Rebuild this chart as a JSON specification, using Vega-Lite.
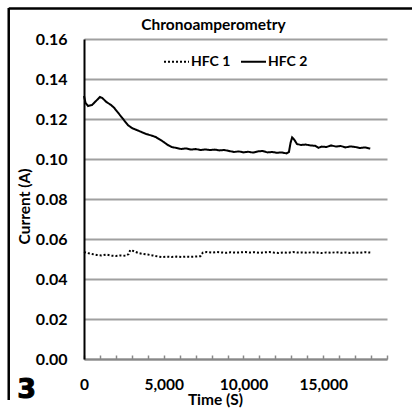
{
  "$schema": "https://vega.github.io/schema/vega-lite/v6.json",
  "autosize": "none",
  "padding": {"left": 84, "top": 39, "right": 25, "bottom": 52},
  "width": 303,
  "height": 320,
  "background": "white",
  "config": {"font": "Lato", "view": {"stroke": null}},
  "title": {"text": "Chronoamperometry", "font": "Lato", "fontSize": 15.5, "fontWeight": "bold", "color": "black", "anchor": "middle", "dx": -22, "offset": -27},
  "datasets": {
    "series": [
      {"t": 0, "v": 0.1315, "s": "HFC 2"}, {"t": 100, "v": 0.128, "s": "HFC 2"}, {"t": 250, "v": 0.1265, "s": "HFC 2"}, {"t": 500, "v": 0.127, "s": "HFC 2"},
      {"t": 750, "v": 0.129, "s": "HFC 2"}, {"t": 1000, "v": 0.131, "s": "HFC 2"}, {"t": 1150, "v": 0.1305, "s": "HFC 2"}, {"t": 1400, "v": 0.1285, "s": "HFC 2"},
      {"t": 1700, "v": 0.127, "s": "HFC 2"}, {"t": 1900, "v": 0.1255, "s": "HFC 2"}, {"t": 2100, "v": 0.1235, "s": "HFC 2"}, {"t": 2300, "v": 0.1215, "s": "HFC 2"},
      {"t": 2500, "v": 0.1195, "s": "HFC 2"}, {"t": 2750, "v": 0.117, "s": "HFC 2"}, {"t": 3000, "v": 0.1155, "s": "HFC 2"}, {"t": 3300, "v": 0.1145, "s": "HFC 2"},
      {"t": 3600, "v": 0.1135, "s": "HFC 2"}, {"t": 3900, "v": 0.1125, "s": "HFC 2"}, {"t": 4200, "v": 0.1118, "s": "HFC 2"}, {"t": 4500, "v": 0.111, "s": "HFC 2"},
      {"t": 4800, "v": 0.1095, "s": "HFC 2"}, {"t": 5000, "v": 0.1085, "s": "HFC 2"}, {"t": 5250, "v": 0.107, "s": "HFC 2"}, {"t": 5500, "v": 0.106, "s": "HFC 2"},
      {"t": 5800, "v": 0.1055, "s": "HFC 2"}, {"t": 6100, "v": 0.105, "s": "HFC 2"}, {"t": 6400, "v": 0.1053, "s": "HFC 2"}, {"t": 6700, "v": 0.1047, "s": "HFC 2"},
      {"t": 7000, "v": 0.105, "s": "HFC 2"}, {"t": 7300, "v": 0.1045, "s": "HFC 2"}, {"t": 7600, "v": 0.1048, "s": "HFC 2"}, {"t": 7900, "v": 0.1045, "s": "HFC 2"},
      {"t": 8200, "v": 0.1047, "s": "HFC 2"}, {"t": 8500, "v": 0.1043, "s": "HFC 2"}, {"t": 8800, "v": 0.1045, "s": "HFC 2"}, {"t": 9100, "v": 0.104, "s": "HFC 2"},
      {"t": 9400, "v": 0.1035, "s": "HFC 2"}, {"t": 9700, "v": 0.1038, "s": "HFC 2"}, {"t": 10000, "v": 0.1033, "s": "HFC 2"}, {"t": 10300, "v": 0.1036, "s": "HFC 2"},
      {"t": 10600, "v": 0.1032, "s": "HFC 2"}, {"t": 10900, "v": 0.1038, "s": "HFC 2"}, {"t": 11200, "v": 0.104, "s": "HFC 2"}, {"t": 11500, "v": 0.1033, "s": "HFC 2"},
      {"t": 11800, "v": 0.1035, "s": "HFC 2"}, {"t": 12100, "v": 0.1031, "s": "HFC 2"}, {"t": 12400, "v": 0.1033, "s": "HFC 2"}, {"t": 12700, "v": 0.1028, "s": "HFC 2"},
      {"t": 12850, "v": 0.1035, "s": "HFC 2"}, {"t": 12950, "v": 0.108, "s": "HFC 2"}, {"t": 13050, "v": 0.1108, "s": "HFC 2"}, {"t": 13200, "v": 0.1095, "s": "HFC 2"},
      {"t": 13350, "v": 0.1075, "s": "HFC 2"}, {"t": 13600, "v": 0.107, "s": "HFC 2"}, {"t": 13900, "v": 0.1072, "s": "HFC 2"}, {"t": 14200, "v": 0.1068, "s": "HFC 2"},
      {"t": 14500, "v": 0.1066, "s": "HFC 2"}, {"t": 14700, "v": 0.1056, "s": "HFC 2"}, {"t": 14900, "v": 0.1062, "s": "HFC 2"}, {"t": 15200, "v": 0.106, "s": "HFC 2"},
      {"t": 15500, "v": 0.1068, "s": "HFC 2"}, {"t": 15800, "v": 0.1062, "s": "HFC 2"}, {"t": 16100, "v": 0.1065, "s": "HFC 2"}, {"t": 16400, "v": 0.1058, "s": "HFC 2"},
      {"t": 16700, "v": 0.1063, "s": "HFC 2"}, {"t": 17000, "v": 0.106, "s": "HFC 2"}, {"t": 17300, "v": 0.1055, "s": "HFC 2"}, {"t": 17600, "v": 0.1058, "s": "HFC 2"},
      {"t": 17950, "v": 0.1052, "s": "HFC 2"},
      {"t": 0, "v": 0.0535, "s": "HFC 1"}, {"t": 200, "v": 0.053, "s": "HFC 1"}, {"t": 500, "v": 0.0525, "s": "HFC 1"}, {"t": 800, "v": 0.052, "s": "HFC 1"},
      {"t": 1100, "v": 0.0518, "s": "HFC 1"}, {"t": 1400, "v": 0.0522, "s": "HFC 1"}, {"t": 1700, "v": 0.0517, "s": "HFC 1"}, {"t": 2000, "v": 0.0515, "s": "HFC 1"},
      {"t": 2300, "v": 0.0518, "s": "HFC 1"}, {"t": 2600, "v": 0.0516, "s": "HFC 1"}, {"t": 2800, "v": 0.0525, "s": "HFC 1"}, {"t": 2900, "v": 0.0545, "s": "HFC 1"},
      {"t": 3100, "v": 0.054, "s": "HFC 1"}, {"t": 3400, "v": 0.053, "s": "HFC 1"}, {"t": 3700, "v": 0.0525, "s": "HFC 1"}, {"t": 4000, "v": 0.0522, "s": "HFC 1"},
      {"t": 4300, "v": 0.0518, "s": "HFC 1"}, {"t": 4600, "v": 0.0513, "s": "HFC 1"}, {"t": 4900, "v": 0.051, "s": "HFC 1"}, {"t": 5200, "v": 0.0512, "s": "HFC 1"},
      {"t": 5500, "v": 0.051, "s": "HFC 1"}, {"t": 5800, "v": 0.0512, "s": "HFC 1"}, {"t": 6100, "v": 0.051, "s": "HFC 1"}, {"t": 6400, "v": 0.0512, "s": "HFC 1"},
      {"t": 6700, "v": 0.0511, "s": "HFC 1"}, {"t": 7000, "v": 0.0512, "s": "HFC 1"}, {"t": 7300, "v": 0.0514, "s": "HFC 1"}, {"t": 7450, "v": 0.0532, "s": "HFC 1"},
      {"t": 7700, "v": 0.0535, "s": "HFC 1"}, {"t": 8000, "v": 0.0532, "s": "HFC 1"}, {"t": 8300, "v": 0.0535, "s": "HFC 1"}, {"t": 8600, "v": 0.0533, "s": "HFC 1"},
      {"t": 8900, "v": 0.0531, "s": "HFC 1"}, {"t": 9200, "v": 0.0534, "s": "HFC 1"}, {"t": 9500, "v": 0.0532, "s": "HFC 1"}, {"t": 9800, "v": 0.0533, "s": "HFC 1"},
      {"t": 10100, "v": 0.0535, "s": "HFC 1"}, {"t": 10400, "v": 0.0532, "s": "HFC 1"}, {"t": 10700, "v": 0.0534, "s": "HFC 1"}, {"t": 11000, "v": 0.0531, "s": "HFC 1"},
      {"t": 11300, "v": 0.0533, "s": "HFC 1"}, {"t": 11600, "v": 0.0535, "s": "HFC 1"}, {"t": 11900, "v": 0.0532, "s": "HFC 1"}, {"t": 12200, "v": 0.053, "s": "HFC 1"},
      {"t": 12500, "v": 0.0533, "s": "HFC 1"}, {"t": 12800, "v": 0.0531, "s": "HFC 1"}, {"t": 13100, "v": 0.0535, "s": "HFC 1"}, {"t": 13400, "v": 0.0532, "s": "HFC 1"},
      {"t": 13700, "v": 0.0533, "s": "HFC 1"}, {"t": 14000, "v": 0.0531, "s": "HFC 1"}, {"t": 14300, "v": 0.0534, "s": "HFC 1"}, {"t": 14600, "v": 0.0532, "s": "HFC 1"},
      {"t": 14900, "v": 0.053, "s": "HFC 1"}, {"t": 15200, "v": 0.0533, "s": "HFC 1"}, {"t": 15500, "v": 0.0531, "s": "HFC 1"}, {"t": 15800, "v": 0.0534, "s": "HFC 1"},
      {"t": 16100, "v": 0.0531, "s": "HFC 1"}, {"t": 16400, "v": 0.0533, "s": "HFC 1"}, {"t": 16700, "v": 0.053, "s": "HFC 1"}, {"t": 17000, "v": 0.0533, "s": "HFC 1"},
      {"t": 17300, "v": 0.0531, "s": "HFC 1"}, {"t": 17600, "v": 0.0534, "s": "HFC 1"}, {"t": 17950, "v": 0.0532, "s": "HFC 1"}
    ]
  },
  "layer": [
    {
      "data": {"name": "series"},
      "mark": {"type": "line", "color": "black", "strokeWidth": 2, "interpolate": "linear"},
      "encoding": {
        "x": {
          "field": "t", "type": "quantitative",
          "scale": {"domain": [0, 19000], "nice": false, "zero": false},
          "axis": {
            "title": "Time (S)", "titleFont": "Lato", "titleFontSize": 15.5, "titleFontWeight": "bold", "titleColor": "black",
            "titleX": 131, "titleY": 45, "titleBaseline": "alphabetic", "titleAnchor": "middle", "titleAlign": "center",
            "values": [0, 1000, 2000, 3000, 4000, 5000, 6000, 7000, 8000, 9000, 10000, 11000, 12000, 13000, 14000, 15000, 16000, 17000, 18000, 19000],
            "tickCount": 40,
            "labelExpr": "datum.value % 5000 === 0 && datum.value < 19000 ? format(datum.value, ',') : ''",
            "labelFont": "Lato", "labelFontSize": 15.5, "labelFontWeight": "bold", "labelColor": "black",
            "labelPadding": 22, "labelOverlap": false, "labelFlush": false,
            "tickSize": -4, "tickColor": "#888888", "tickWidth": 1.5,
            "domainColor": "#888888", "domainWidth": 2, "grid": false
          }
        },
        "y": {
          "field": "v", "type": "quantitative",
          "scale": {"domain": [0, 0.16], "nice": false},
          "axis": {
            "title": "Current (A)", "titleFont": "Lato", "titleFontSize": 15.5, "titleFontWeight": "bold", "titleColor": "black",
            "titleX": -55, "titleY": 167, "titleBaseline": "alphabetic", "titleAngle": -90, "titleAlign": "center",
            "values": [0, 0.02, 0.04, 0.06, 0.08, 0.1, 0.12, 0.14, 0.16],
            "tickCount": 40,
            "format": ".2f", "labelOverlap": false,
            "labelFont": "Lato", "labelFontSize": 16, "labelFontWeight": "bold", "labelColor": "black",
            "labelPadding": 17, "ticks": false, "tickSize": 0,
            "domainColor": "black", "domainWidth": 2,
            "grid": true, "gridColor": "#a0a0a0", "gridWidth": 2
          }
        },
        "strokeDash": {
          "field": "s", "type": "nominal",
          "scale": {"domain": ["HFC 1", "HFC 2"], "range": [[2, 2], [1, 0]]},
          "legend": {
            "orient": "none", "legendX": 79, "legendY": 9, "direction": "horizontal", "title": null,
            "symbolType": "stroke", "symbolSize": 625, "symbolStrokeWidth": 2, "symbolStrokeColor": "black",
            "labelFont": "Lato", "labelFontSize": 14, "labelFontWeight": "bold", "labelColor": "black",
            "labelOffset": 1, "columnPadding": 6
          }
        }
      }
    },
    {
      "data": {"values": [{}]},
      "mark": {"type": "rule", "color": "black", "strokeWidth": 2.5},
      "encoding": {
        "x": {"datum": -4720, "type": "quantitative"},
        "y": {"datum": 0.1755, "type": "quantitative"},
        "y2": {"datum": -0.0205}
      }
    },
    {
      "data": {"values": [{}]},
      "mark": {"type": "rule", "color": "black", "strokeWidth": 2.5},
      "encoding": {
        "x": {"datum": -4720, "type": "quantitative"},
        "x2": {"datum": 20600},
        "y": {"datum": 0.1752, "type": "quantitative"}
      }
    },
    {
      "data": {"values": [{}]},
      "mark": {"type": "text", "text": "3", "font": "DejaVu Sans", "fontWeight": "bold", "fontSize": 27, "color": "black", "stroke": "black", "strokeWidth": 1, "align": "center", "baseline": "alphabetic"},
      "encoding": {
        "x": {"datum": -3600, "type": "quantitative"},
        "y": {"datum": -0.0195, "type": "quantitative"}
      }
    }
  ]
}
